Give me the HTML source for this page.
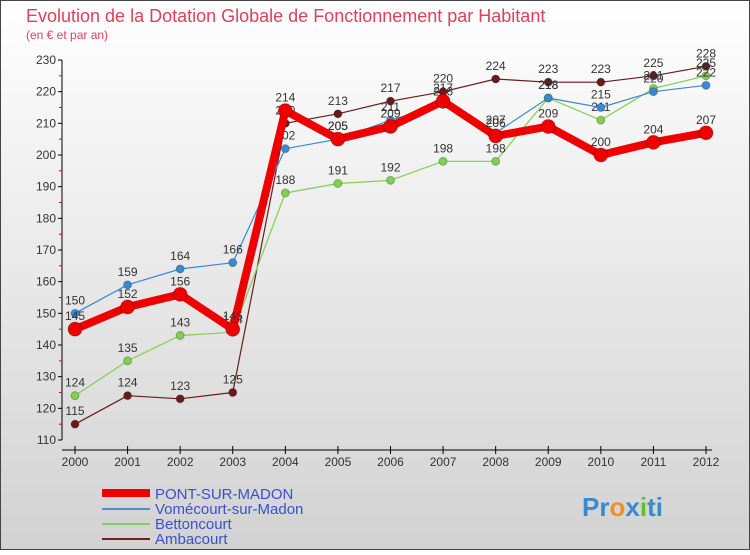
<!DOCTYPE html>
<html><head><meta charset="utf-8"><style>
body{margin:0;width:750px;height:550px;overflow:hidden;font-family:"Liberation Sans",sans-serif}
</style></head><body>
<svg width="750" height="550" xmlns="http://www.w3.org/2000/svg">
<defs><linearGradient id="bg" x1="0" y1="0" x2="0" y2="1"><stop offset="0" stop-color="#ffffff"/><stop offset="1" stop-color="#d2d2d2"/></linearGradient></defs>
<rect x="0.5" y="0.5" width="749" height="549" fill="url(#bg)" stroke="#444"/>
<text x="26" y="22" font-size="18" fill="#e0405a">Evolution de la Dotation Globale de Fonctionnement par Habitant</text>
<text x="26" y="39" font-size="12" fill="#e0405a">(en € et par an)</text>
<g id="axes"></g><g id="series"></g>
<g>
<line x1="102" y1="493" x2="150" y2="493" stroke="#ee0000" stroke-width="8"/>
<text x="155" y="499" font-size="15" fill="#3a50d0">PONT-SUR-MADON</text>
<line x1="102" y1="509" x2="150" y2="509" stroke="#4a90d0" stroke-width="2"/>
<text x="155" y="514" font-size="15" fill="#3a50d0">Vomécourt-sur-Madon</text>
<line x1="102" y1="524" x2="150" y2="524" stroke="#80d060" stroke-width="2"/>
<text x="155" y="529" font-size="15" fill="#3a50d0">Bettoncourt</text>
<line x1="102" y1="539" x2="150" y2="539" stroke="#702020" stroke-width="2"/>
<text x="155" y="544" font-size="15" fill="#3a50d0">Ambacourt</text>
</g>
<text x="582" y="516" font-size="26" font-weight="bold"><tspan fill="#3a8ad0">Pr</tspan><tspan fill="#f09020">o</tspan><tspan fill="#3a8ad0">x</tspan><tspan fill="#60c030">i</tspan><tspan fill="#3a8ad0">ti</tspan></text>
</svg>
<script>
const years=[2000,2001,2002,2003,2004,2005,2006,2007,2008,2009,2010,2011,2012];
const pont=[145,152,156,145,214,205,209,217,206,209,200,204,207];
const vome=[150,159,164,166,202,205,211,216,207,218,215,220,222];
const betton=[124,135,143,144,188,191,192,198,198,218,211,221,225];
const amba=[115,124,123,125,210,213,217,220,224,223,223,225,228];
const yTicks=[110,120,130,140,150,160,170,180,190,200,210,220,230];
const NS="http://www.w3.org/2000/svg";
const X=i=>75+i*(706-75)/(years.length-1);
const Y=v=>440-(v-110)*(380/120);
function mk(t,a,p){const e=document.createElementNS(NS,t);for(const k in a)e.setAttribute(k,a[k]);p.appendChild(e);return e;}
const ax=document.getElementById('axes');
const yl=mk('line',{x1:62,y1:Y(230),x2:62,y2:Y(110),stroke:'#000'},ax);


yTicks.forEach(v=>{
 mk('line',{x1:58,y1:Y(v),x2:62,y2:Y(v),stroke:'#000'},ax);
 if(v<230)mk('line',{x1:59,y1:Y(v+5),x2:62,y2:Y(v+5),stroke:'#e00'},ax);
 const t=mk('text',{x:56,y:Y(v)+4,'font-size':12,'text-anchor':'end',fill:'#333'},ax);t.textContent=v;
 
 
});
const xl=mk('line',{x1:62,y1:450,x2:712,y2:450,stroke:'#000'},ax);


years.forEach((y,i)=>{
 mk('line',{x1:X(i),y1:446,x2:X(i),y2:454,stroke:'#000'},ax);
 const t=mk('text',{x:X(i),y:466,'font-size':12,'text-anchor':'middle',fill:'#333'},ax);t.textContent=y;
 
 
});
const sg=document.getElementById('series');
function series(d,col,w,r,name){
 const g=mk('g',{},sg);
 
 
 mk('polyline',{points:d.map((v,i)=>X(i)+','+Y(v)).join(' '),fill:'none',stroke:col,'stroke-width':w,'stroke-linejoin':'round'},g);
 d.forEach((v,i)=>{
  const c=mk('circle',{cx:X(i),cy:Y(v),r:r,fill:col,stroke:'rgba(0,0,0,0.25)'},g);
  
  
  const t=mk('text',{x:X(i),y:Y(v)-9,'font-size':12,'text-anchor':'middle',fill:'#333'},g);t.textContent=v;
  
  
 });
}
series(amba,'#6a1a1a',1.2,4,'series-ambacourt');
series(betton,'#80d050',1.2,4,'series-bettoncourt');
series(vome,'#3a8ad0',1.2,4,'series-vomecourt');
series(pont,'#ee0000',8,7,'series-pont-sur-madon');
</script>
</body></html>
